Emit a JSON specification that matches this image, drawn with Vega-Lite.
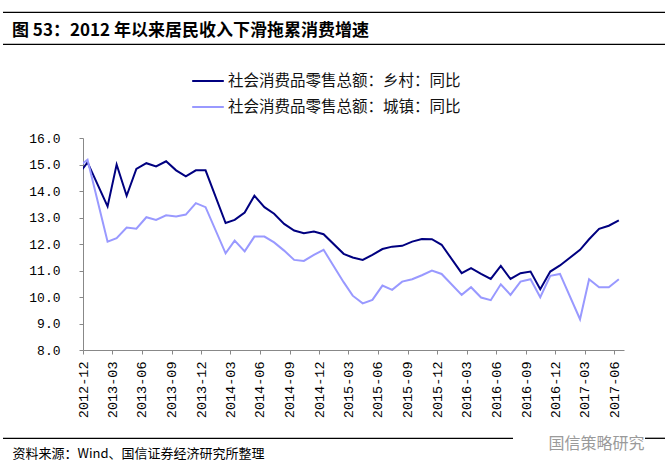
{
  "$schema": "https://vega.github.io/schema/vega-lite/v6.json",
  "width": 541,
  "height": 212,
  "autosize": "none",
  "padding": {"left": 83, "top": 138, "right": 41, "bottom": 122},
  "background": "white",
  "title": {
    "text": "图 53：2012 年以来居民收入下滑拖累消费增速",
    "anchor": "start",
    "frame": "group",
    "dx": -71,
    "offset": -28,
    "font": "Noto Sans CJK SC",
    "fontSize": 17,
    "fontWeight": "bold",
    "color": "black"
  },
  "config": {"view": {"stroke": null}},
  "layer": [
    {
      "data": {"values": [{}]},
      "mark": {"type": "rule", "color": "black", "strokeWidth": 1.3},
      "encoding": {"x": {"value": -80}, "x2": {"value": 582}, "y": {"value": -125.7}}
    },
    {
      "data": {"values": [{}]},
      "mark": {"type": "rule", "color": "black", "strokeWidth": 1.3},
      "encoding": {"x": {"value": -80}, "x2": {"value": 582}, "y": {"value": -93.7}}
    },
    {
      "data": {"values": [{}]},
      "mark": {"type": "rule", "color": "black", "strokeWidth": 1.3},
      "encoding": {"x": {"value": -80}, "x2": {"value": 430}, "y": {"value": 300.3}}
    },
    {
      "data": {"values": [{}]},
      "mark": {"type": "rule", "color": "black", "strokeWidth": 1.3},
      "encoding": {"x": {"value": 562}, "x2": {"value": 582}, "y": {"value": 300.3}}
    },
    {
      "data": {
        "values": [
          {"d": "2012-11-15", "乡村": 14.6, "城镇": 14.9},
          {"d": "2012-12-15", "乡村": 15.08, "城镇": 15.18},
          {"d": "2013-02-15", "乡村": 13.42, "城镇": 12.09},
          {"d": "2013-03-15", "乡村": 15.0, "城镇": 12.22},
          {"d": "2013-04-15", "乡村": 13.82, "城镇": 12.62},
          {"d": "2013-05-15", "乡村": 14.83, "城镇": 12.58},
          {"d": "2013-06-15", "乡村": 15.05, "城镇": 13.01},
          {"d": "2013-07-15", "乡村": 14.93, "城镇": 12.91},
          {"d": "2013-08-15", "乡村": 15.12, "城镇": 13.08},
          {"d": "2013-09-15", "乡村": 14.78, "城镇": 13.04},
          {"d": "2013-10-15", "乡村": 14.55, "城镇": 13.11},
          {"d": "2013-11-15", "乡村": 14.78, "城镇": 13.54},
          {"d": "2013-12-15", "乡村": 14.78, "城镇": 13.39},
          {"d": "2014-02-15", "乡村": 12.79, "城镇": 11.65},
          {"d": "2014-03-15", "乡村": 12.91, "城镇": 12.13},
          {"d": "2014-04-15", "乡村": 13.19, "城镇": 11.72},
          {"d": "2014-05-15", "乡村": 13.82, "城镇": 12.28},
          {"d": "2014-06-15", "乡村": 13.39, "城镇": 12.28},
          {"d": "2014-07-15", "乡村": 13.14, "城镇": 12.06},
          {"d": "2014-08-15", "乡村": 12.76, "城镇": 11.75},
          {"d": "2014-09-15", "乡村": 12.51, "城镇": 11.40},
          {"d": "2014-10-15", "乡村": 12.41, "城镇": 11.36},
          {"d": "2014-11-15", "乡村": 12.47, "城镇": 11.59},
          {"d": "2014-12-15", "乡村": 12.37, "城镇": 11.78},
          {"d": "2015-02-15", "乡村": 11.63, "城镇": 10.56},
          {"d": "2015-03-15", "乡村": 11.49, "城镇": 10.05},
          {"d": "2015-04-15", "乡村": 11.40, "城镇": 9.76},
          {"d": "2015-05-15", "乡村": 11.59, "城镇": 9.89},
          {"d": "2015-06-15", "乡村": 11.81, "城镇": 10.43},
          {"d": "2015-07-15", "乡村": 11.90, "城镇": 10.27},
          {"d": "2015-08-15", "乡村": 11.93, "城镇": 10.58},
          {"d": "2015-09-15", "乡村": 12.09, "城镇": 10.67},
          {"d": "2015-10-15", "乡村": 12.19, "城镇": 10.82},
          {"d": "2015-11-15", "乡村": 12.18, "城镇": 11.0},
          {"d": "2015-12-15", "乡村": 11.97, "城镇": 10.87},
          {"d": "2016-02-15", "乡村": 10.90, "城镇": 10.08},
          {"d": "2016-03-15", "乡村": 11.09, "城镇": 10.37},
          {"d": "2016-04-15", "乡村": 10.87, "城镇": 9.98},
          {"d": "2016-05-15", "乡村": 10.68, "城镇": 9.88},
          {"d": "2016-06-15", "乡村": 11.17, "城镇": 10.48},
          {"d": "2016-07-15", "乡村": 10.68, "城镇": 10.08},
          {"d": "2016-08-15", "乡村": 10.90, "城镇": 10.58},
          {"d": "2016-09-15", "乡村": 10.96, "城镇": 10.67},
          {"d": "2016-10-15", "乡村": 10.29, "城镇": 9.99},
          {"d": "2016-11-15", "乡村": 10.96, "城镇": 10.80},
          {"d": "2016-12-15", "乡村": 11.19, "城镇": 10.87},
          {"d": "2017-02-15", "乡村": 11.78, "城镇": 9.16},
          {"d": "2017-03-15", "乡村": 12.18, "城镇": 10.67},
          {"d": "2017-04-15", "乡村": 12.57, "城镇": 10.37},
          {"d": "2017-05-15", "乡村": 12.69, "城镇": 10.37},
          {"d": "2017-06-15", "乡村": 12.89, "城镇": 10.67}
        ]
      },
      "transform": [{"fold": ["乡村", "城镇"], "as": ["series", "value"]}],
      "mark": {"type": "line", "clip": true, "strokeWidth": 2},
      "encoding": {
        "x": {
          "field": "d",
          "type": "temporal",
          "scale": {
            "type": "utc",
            "domain": [
              {"year": 2012, "month": 12, "date": 1, "utc": true},
              {"year": 2017, "month": 7, "date": 1, "utc": true}
            ]
          },
          "axis": {
            "values": [
              {"year": 2012, "month": 12, "date": 1, "utc": true},
              {"year": 2013, "month": 3, "date": 1, "utc": true},
              {"year": 2013, "month": 6, "date": 1, "utc": true},
              {"year": 2013, "month": 9, "date": 1, "utc": true},
              {"year": 2013, "month": 12, "date": 1, "utc": true},
              {"year": 2014, "month": 3, "date": 1, "utc": true},
              {"year": 2014, "month": 6, "date": 1, "utc": true},
              {"year": 2014, "month": 9, "date": 1, "utc": true},
              {"year": 2014, "month": 12, "date": 1, "utc": true},
              {"year": 2015, "month": 3, "date": 1, "utc": true},
              {"year": 2015, "month": 6, "date": 1, "utc": true},
              {"year": 2015, "month": 9, "date": 1, "utc": true},
              {"year": 2015, "month": 12, "date": 1, "utc": true},
              {"year": 2016, "month": 3, "date": 1, "utc": true},
              {"year": 2016, "month": 6, "date": 1, "utc": true},
              {"year": 2016, "month": 9, "date": 1, "utc": true},
              {"year": 2016, "month": 12, "date": 1, "utc": true},
              {"year": 2017, "month": 3, "date": 1, "utc": true},
              {"year": 2017, "month": 6, "date": 1, "utc": true}
            ],
            "labelExpr": "utcFormat(datum.value, '%Y-%m')",
            "labelAngle": 270,
            "labelAlign": "right",
            "labelBaseline": "middle",
            "labelPadding": 7,
            "labelOverlap": false,
            "labelFlush": false,
            "labelFont": "Liberation Mono",
            "labelFontSize": 13.5,
            "labelColor": "black",
            "tickSize": 4,
            "tickColor": "#888888",
            "domainColor": "#888888",
            "grid": false,
            "title": "资料来源：Wind、国信证券经济研究所整理",
            "titleX": -71,
            "titleY": 103,
            "titleAngle": 0,
            "titleAlign": "left",
            "titleBaseline": "middle",
            "titleFont": "Noto Sans CJK SC",
            "titleFontSize": 13,
            "titleFontWeight": "normal",
            "titleColor": "black"
          }
        },
        "y": {
          "field": "value",
          "type": "quantitative",
          "scale": {"domain": [8, 16], "nice": false, "zero": false},
          "axis": {
            "values": [8, 9, 10, 11, 12, 13, 14, 15, 16],
            "format": ".1f",
            "labelFont": "Liberation Mono",
            "labelFontSize": 13,
            "labelColor": "black",
            "labelPadding": 19,
            "tickSize": 4,
            "tickColor": "#888888",
            "domainColor": "#888888",
            "grid": false,
            "title": "国信策略研究",
            "titleX": 465,
            "titleY": 305,
            "titleAngle": 0,
            "titleAlign": "left",
            "titleBaseline": "middle",
            "titleFont": "Noto Sans CJK SC",
            "titleFontSize": 16,
            "titleFontWeight": "normal",
            "titleColor": "#9a9a9a"
          }
        },
        "color": {
          "field": "series",
          "type": "nominal",
          "sort": ["乡村", "城镇"],
          "scale": {"domain": ["乡村", "城镇"], "range": ["#000080", "#9999FF"]},
          "legend": {
            "orient": "none",
            "legendX": 108,
            "legendY": -74,
            "direction": "vertical",
            "title": null,
            "padding": 0,
            "symbolType": "stroke",
            "symbolSize": 1000,
            "symbolStrokeWidth": 2,
            "labelFont": "Noto Sans CJK SC",
            "labelFontSize": 15.5,
            "labelColor": "#111111",
            "labelOffset": 3,
            "labelLimit": 400,
            "rowPadding": 0,
            "labelExpr": "'社会消费品零售总额：' + datum.label + '：同比'"
          }
        }
      }
    }
  ]
}
